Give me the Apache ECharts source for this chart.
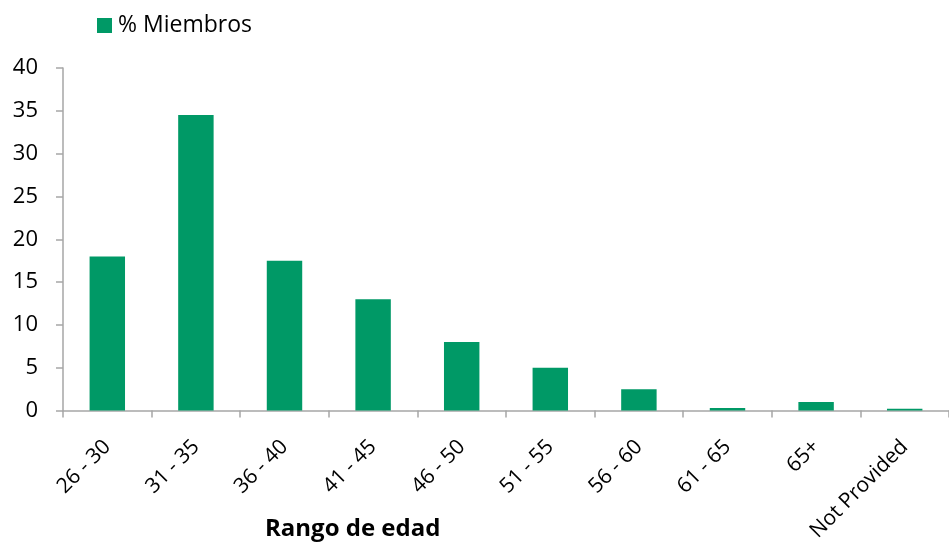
<!DOCTYPE html>
<html><head><meta charset="utf-8">
<script src="https://cdn.jsdelivr.net/npm/echarts@6/dist/echarts.min.js"></script>
<style>html,body{margin:0;padding:0;background:#fff}#c{width:949px;height:544px}</style>
</head><body><div id="c"></div>
<script>
var categories = ['26 - 30','31 - 35','36 - 40','41 - 45','46 - 50','51 - 55','56 - 60','61 - 65','65+','Not Provided'];
var miembros = [18, 34.5, 17.5, 13, 8, 5, 2.5, 0.3, 1, 0.2];
var seriesName = '% Miembros';
var axisTitle = 'Rango de edad';
var FONT = '"Open Sans", sans-serif';
var chart = echarts.init(document.getElementById('c'));
chart.setOption({
  animation: false,
  textStyle: {fontFamily: FONT},
  title: {text: axisTitle, left: 260, top: 512, textStyle: {fontFamily: FONT, fontSize: 24, fontWeight: 'bold', color: '#000'}},
  legend: {data: [seriesName], left: 92, top: 9, itemWidth: 15, itemHeight: 15, itemGap: 5, icon: 'rect',
    textStyle: {fontFamily: FONT, fontSize: 23, color: '#000', padding: [0,0,0,1]}},
  grid: {left: 63, right: -6, top: 68, bottom: 132, containLabel: false},
  xAxis: {type: 'category', data: categories, boundaryGap: true,
    axisLine: {lineStyle: {color: '#a6a6a6', width: 1.5}},
    axisTick: {show: true, length: 7, lineStyle: {color: '#a6a6a6', width: 1.5}},
    axisLabel: {rotate: 45, fontSize: 21, color: '#000', fontFamily: FONT, margin: 33, interval: 0}},
  yAxis: {type: 'value', min: 0, max: 40, interval: 5,
    splitLine: {show: false},
    axisLine: {show: true, lineStyle: {color: '#a6a6a6', width: 1.5}},
    axisTick: {show: true, length: 7, lineStyle: {color: '#a6a6a6', width: 1.5}},
    axisLabel: {fontSize: 22, color: '#000', fontFamily: FONT, margin: 25}},
  series: [{name: seriesName, type: 'bar', data: miembros, barWidth: '40%', itemStyle: {color: '#009966'}}]
});
</script></body></html>
